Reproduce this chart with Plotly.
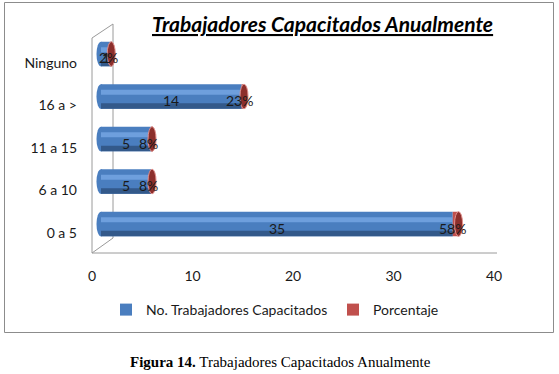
import plotly.graph_objects as go

# ---- data ----
categories = ["0 a 5", "6 a 10", "11 a 15", "16 a >", "Ninguno"]
trabajadores = [35, 5, 5, 14, 1]
porcentaje = [0.58, 0.08, 0.08, 0.23, 0.02]
porcentaje_labels = ["58%", "8%", "8%", "23%", "2%"]
x_ticks = [0, 10, 20, 30, 40]

W, H = 559, 374
def fx(px):
    return px / W
def fy(py):
    return 1 - py / H

BLUE = "#4A7EBF"
BLUE_LIGHT = "#6E9FDD"
BLUE_DARK = "#33598A"
RED = "#C0504D"
RED_DARK = "#8C2F2C"
GRID = "#9A9A9A"

FONT = "Lato"
idx = list(range(len(categories)))

fig = go.Figure()

front_zero, front_scale = 92, (494 - 92) / 40.0
bar_zero = 101
bar_min = -2
bw = 0.58

# invisible anchor trace for the front (tick) axes
fig.add_trace(go.Scatter(
    x=[0] * len(idx), y=idx, mode="markers", marker=dict(opacity=0),
    showlegend=False, hoverinfo="skip", xaxis="x", yaxis="y",
))

fig.add_trace(go.Bar(
    y=idx, x=trabajadores, orientation="h", width=bw,
    marker=dict(color=BLUE, line=dict(width=0)),
    name="No. Trabajadores Capacitados", xaxis="x2", yaxis="y2",
))
fig.add_trace(go.Bar(
    y=idx, x=trabajadores, orientation="h", width=0.12, offset=0.04,
    marker=dict(color=BLUE_LIGHT, line=dict(width=0)),
    showlegend=False, hoverinfo="skip", xaxis="x2", yaxis="y2",
))
fig.add_trace(go.Bar(
    y=idx, x=trabajadores, orientation="h", width=0.13, offset=-bw / 2,
    marker=dict(color=BLUE_DARK, line=dict(width=0)),
    showlegend=False, hoverinfo="skip", xaxis="x2", yaxis="y2",
))
fig.add_trace(go.Bar(
    y=idx, x=porcentaje, base=trabajadores, orientation="h", width=bw,
    marker=dict(color=RED, line=dict(width=0)),
    name="Porcentaje", xaxis="x2", yaxis="y2",
))

# end caps of the cylinders
for i, v, p in zip(idx, trabajadores, porcentaje):
    fig.add_shape(type="circle", xref="x2", yref="y2",
                  x0=-0.45, x1=0.45, y0=i - bw / 2, y1=i + bw / 2,
                  fillcolor=BLUE, line=dict(width=0), layer="below")
    fig.add_shape(type="circle", xref="x2", yref="y2",
                  x0=v + p - 0.4, x1=v + p + 0.4, y0=i - bw / 2, y1=i + bw / 2,
                  fillcolor=RED_DARK, line=dict(color="#E0908C", width=1), layer="above")

# data labels (annotations, so they sit above the caps)
for i, v, p, lab in zip(idx, trabajadores, porcentaje, porcentaje_labels):
    fig.add_annotation(x=v / 2, y=i, xref="x2", yref="y2", text=str(v),
                       showarrow=False, yshift=-4,
                       font=dict(family=FONT, size=14, color="#1a1a1a"))
    fig.add_annotation(x=v + p / 2 - 0.3, y=i, xref="x2", yref="y2", text=lab,
                       showarrow=False, yshift=-4,
                       font=dict(family=FONT, size=14, color="#1a1a1a"))

cat_top, cat_bot = 63 - 21.25, 233 + 21.25
depth_dy = 9

fig.update_layout(
    width=W, height=H,
    margin=dict(l=0, r=0, t=0, b=0, autoexpand=False),
    paper_bgcolor="white", plot_bgcolor="rgba(0,0,0,0)",
    barmode="overlay",
    font=dict(family=FONT, size=13, color="#1a1a1a"),
    xaxis=dict(
        domain=[fx(front_zero), fx(front_zero + 40 * front_scale)],
        range=[0, 40], tickvals=x_ticks, ticktext=[str(t) for t in x_ticks],
        showgrid=False, zeroline=False, showline=False, ticks="",
        ticklabelstandoff=12, anchor="y", fixedrange=True, automargin=False,
        tickfont=dict(family=FONT, size=14, color="#1a1a1a"),
    ),
    yaxis=dict(
        domain=[fy(cat_bot), fy(cat_top)],
        range=[-0.5, 4.5], tickvals=idx, ticktext=categories,
        showgrid=False, zeroline=False, showline=False, ticks="",
        ticklabelstandoff=14, anchor="x", automargin=False,
        tickfont=dict(family=FONT, size=14, color="#1a1a1a"),
    ),
    xaxis2=dict(
        domain=[fx(bar_zero + bar_min * front_scale), fx(bar_zero + 40 * front_scale)],
        range=[bar_min, 40], visible=False, anchor="y2", automargin=False,
    ),
    yaxis2=dict(
        domain=[fy(cat_bot - depth_dy), fy(cat_top - depth_dy)],
        range=[-0.5, 4.5], visible=False, anchor="x2", automargin=False,
    ),
    legend=dict(
        orientation="h", x=fx(106), xanchor="left", y=fy(310), yanchor="middle",
        font=dict(family=FONT, size=14, color="#1a1a1a"),
        itemwidth=30, bgcolor="rgba(0,0,0,0)",
        entrywidth=182, entrywidthmode="pixels",
    ),
    showlegend=True,
)

lines = [
    ((92, 38), (92, 253)),
    ((92, 253), (497, 253)),
    ((92, 38), (113, 24)),
    ((92, 253), (113, 238)),
    ((113, 24), (113, 238)),
]
for (x0, y0), (x1, y1) in lines:
    fig.add_shape(type="line", xref="paper", yref="paper",
                  x0=fx(x0), y0=fy(y0), x1=fx(x1), y1=fy(y1),
                  line=dict(color=GRID, width=1), layer="below")

fig.add_shape(type="rect", xref="paper", yref="paper",
              x0=fx(4.5), y0=fy(332.5), x1=fx(553.5), y1=fy(2.5),
              line=dict(color="#8C8C8C", width=1), fillcolor="rgba(0,0,0,0)")

fig.add_annotation(
    text="<b><i><u>Trabajadores Capacitados Anualmente</u></i></b>",
    xref="paper", yref="paper", x=fx(322), y=fy(23), xanchor="center", yanchor="middle",
    showarrow=False, font=dict(family=FONT, size=21, color="#000000"),
)
fig.add_annotation(
    text="<b>Figura 14.</b> Trabajadores Capacitados Anualmente",
    xref="paper", yref="paper", x=fx(280), y=fy(362), xanchor="center", yanchor="middle",
    showarrow=False, font=dict(family="Liberation Serif", size=15, color="#000000"),
)

fig.write_html("out.html", config={"displayModeBar": False},
               post_script="document.body.style.margin='0';document.body.style.overflow='hidden';")
